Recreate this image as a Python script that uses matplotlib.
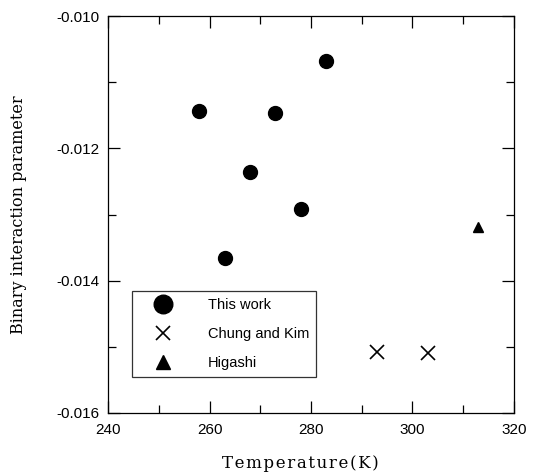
import matplotlib
matplotlib.use("Agg")
from matplotlib import pyplot as plt
from matplotlib.ticker import MultipleLocator, FormatStrFormatter

# This work
t_this = [258, 263, 268, 273, 278, 283]
k_this = [-0.01144, -0.01365, -0.01235, -0.01147, -0.01292, -0.01068]

# Chung and Kim
t_chung = [293, 303]
k_chung = [-0.01508, -0.01509]

# Higashi
t_hig = [313]
k_hig = [-0.01319]

plt.rcParams['font.family'] = ['Liberation Sans', 'DejaVu Sans']

fig = plt.figure(figsize=(5.42, 4.74), dpi=100)
ax = fig.add_axes([0.1993, 0.1287, 0.7490, 0.8375])

ax.plot(t_this, k_this, 'o', color='black', markersize=10, label='This work')
ax.plot(t_chung, k_chung, 'x', color='black', markersize=10, markeredgewidth=1.2, label='Chung and Kim')
ax.plot(t_hig, k_hig, '^', color='black', markersize=7, label='Higashi')

ax.set_xlim(240, 320)
ax.set_ylim(-0.016, -0.010)
ax.xaxis.set_major_locator(MultipleLocator(20))
ax.xaxis.set_minor_locator(MultipleLocator(10))
ax.yaxis.set_major_locator(MultipleLocator(0.002))
ax.yaxis.set_minor_locator(MultipleLocator(0.001))
ax.yaxis.set_major_formatter(FormatStrFormatter('%.3f'))

ax.tick_params(which='both', direction='in', top=True, right=True, width=0.9, labelsize=11)
ax.tick_params(which='major', length=8.5)
ax.tick_params(which='minor', length=5.5)
ax.tick_params(axis='x', pad=7)
ax.tick_params(axis='y', pad=6)
for s in ax.spines.values():
    s.set_linewidth(0.9)

# the x label in the scan is a bit letter-spaced
xlab = '\u200a'.join('Temperature(K)')
ax.set_xlabel(xlab, family=['DejaVu Serif'], fontsize=12, labelpad=12)
ax.xaxis.set_label_coords(0.475, -0.105)
ax.set_ylabel('Binary interaction parameter', family=['DejaVu Serif'], fontsize=11.5, labelpad=21)

leg = ax.legend(loc='lower left', bbox_to_anchor=(0.059, 0.091), borderaxespad=0,
                frameon=True, fancybox=False, edgecolor='black', fontsize=10.5,
                handletextpad=1.36, borderpad=0.45, labelspacing=1.05, handlelength=3.4)
leg.get_frame().set_linewidth(0.9)
for h, ms in zip(leg.legend_handles, [13.4, 10, 10]):
    h.set_markersize(ms)

plt.savefig('out.png', dpi=100)
